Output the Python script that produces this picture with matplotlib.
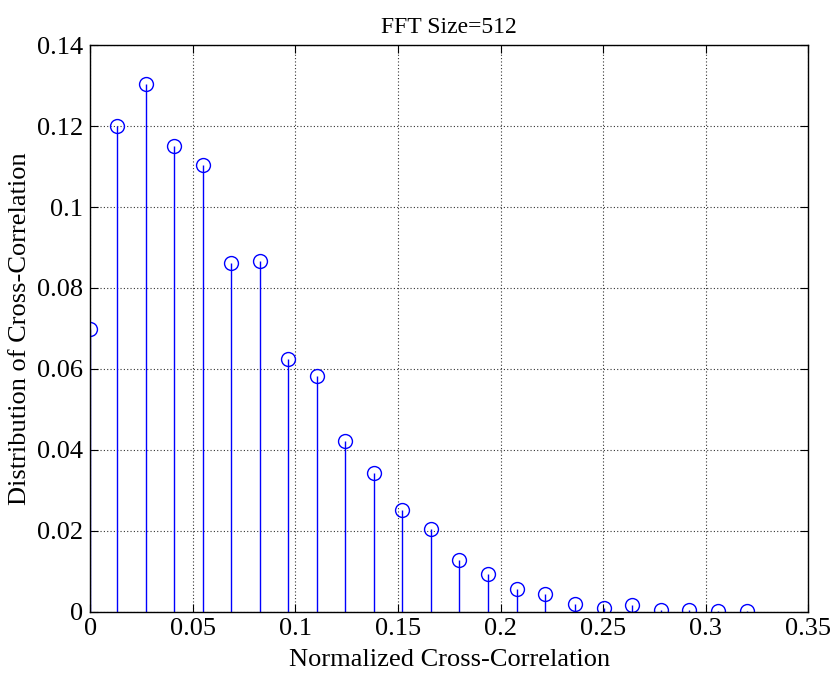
import matplotlib
matplotlib.use("Agg")
import matplotlib.pyplot as plt

# -------------------------
# DATA
# -------------------------
xcorr = [0.0000, 0.0132, 0.0271, 0.0410, 0.0549, 0.0688, 0.0827, 0.0966,
         0.1105, 0.1244, 0.1383, 0.1522, 0.1661, 0.1800, 0.1939, 0.2078,
         0.2217, 0.2361, 0.2504, 0.2641, 0.2784, 0.2917, 0.3060, 0.3200]
dist = [0.0699, 0.1200, 0.1304, 0.1151, 0.1103, 0.0862, 0.0867, 0.0624,
        0.0583, 0.0421, 0.0342, 0.0252, 0.0203, 0.0127, 0.0093, 0.0055,
        0.0044, 0.0018, 0.0010, 0.0016, 0.0005, 0.0005, 0.0001, 0.0001]

xticks = [0, 0.05, 0.1, 0.15, 0.2, 0.25, 0.3, 0.35]
xtick_labels = ["0", "0.05", "0.1", "0.15", "0.2", "0.25", "0.3", "0.35"]
yticks = [0, 0.02, 0.04, 0.06, 0.08, 0.1, 0.12, 0.14]
ytick_labels = ["0", "0.02", "0.04", "0.06", "0.08", "0.1", "0.12", "0.14"]

# -------------------------
# PLOT
# -------------------------
plt.rcParams["font.family"] = ["Liberation Serif", "DejaVu Serif"]

fig = plt.figure(figsize=(8.35, 6.75), dpi=100)
ax = fig.add_axes([0.108, 0.094, 0.860, 0.839])

markers, stems, base = ax.stem(xcorr, dist, linefmt="b-", markerfmt="o", basefmt=" ")
plt.setp(stems, color="#0000ff", linewidth=1.0)
plt.setp(markers, markerfacecolor="none", markeredgecolor="#0000ff",
         markersize=10, markeredgewidth=1.0)

ax.set_xlim(0, 0.35)
ax.set_ylim(0, 0.14)
ax.set_xticks(xticks)
ax.set_xticklabels(xtick_labels)
ax.set_yticks(yticks)
ax.set_yticklabels(ytick_labels)
ax.tick_params(direction="in", labelsize=19, length=6, top=True, right=True, pad=5)
ax.grid(True, linestyle=(0, (1, 2)), color="#333333", linewidth=0.8)
ax.set_axisbelow(True)
for s in ax.spines.values():
    s.set_linewidth(1.0)

ax.set_title("FFT Size=512", fontsize=17, pad=9)
ax.set_xlabel("Normalized Cross-Correlation", fontsize=19, labelpad=6)
ax.set_ylabel("Distribution of Cross-Correlation", fontsize=19, labelpad=4)

fig.savefig("out.png", dpi=100)
